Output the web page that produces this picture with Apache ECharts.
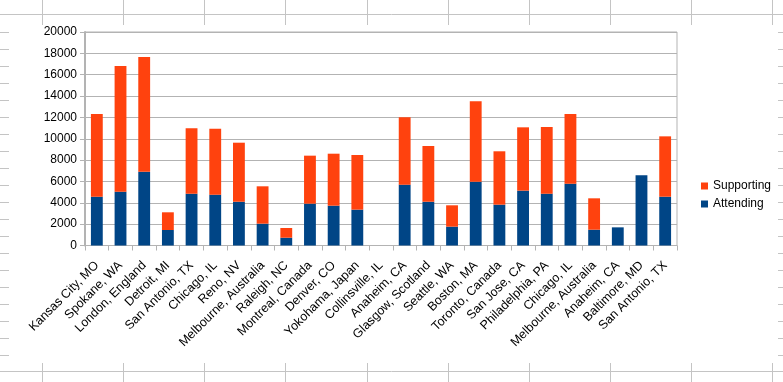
<!DOCTYPE html>
<html>
<head>
<meta charset="utf-8">
<script src="https://cdn.jsdelivr.net/npm/echarts@6/dist/echarts.min.js"></script>
<style>
html,body{margin:0;padding:0;background:#fff;}
#chart{width:783px;height:382px;}
</style>
</head>
<body>
<div id="chart"></div>
<script>
var categories = ["Kansas City, MO","Spokane, WA","London, England","Detroit, MI","San Antonio, TX","Chicago, IL","Reno, NV","Melbourne, Australia","Raleigh, NC","Montreal, Canada","Denver, CO","Yokohama, Japan","Collinsville, IL","Anaheim, CA","Glasgow, Scotland","Seattle, WA","Boston, MA","Toronto, Canada","San Jose, CA","Philadelphia, PA","Chicago, IL","Melbourne, Australia","Anaheim, CA","Baltimore, MD","San Antonio, TX"];
var attending  = [4570, 5040, 6910, 1450, 4850, 4760, 4100, 2045, 730, 3920, 3730, 3360, null, 5700, 4100, 1765, 5980, 3825, 5140, 4855, 5790, 1480, 1700, 6570, 4570];
var supporting = [7750, 11775, 10745, 1660, 6130, 6180, 5530, 3500, 910, 4495, 4870, 5120, null, 6305, 5220, 2000, 7525, 5000, 5930, 6245, 6530, 2940, null, null, 5655];
var yTicks = {min: 0, max: 20000, interval: 2000};

var chart = echarts.init(document.getElementById('chart'), null, {renderer: 'canvas'});

// spreadsheet background lines (decoration)
var gfx = [];
var sheetLine = {stroke: '#c4c4c4', lineWidth: 1};
gfx.push({type: 'line', shape: {x1: 0, y1: 14.5, x2: 783, y2: 14.5}, style: sheetLine, silent: true});
gfx.push({type: 'line', shape: {x1: 0, y1: 371.5, x2: 783, y2: 371.5}, style: sheetLine, silent: true});
for (var c = 0; c < 10; c++) {
  var cx = Math.round(42.3 + 81.05 * c) + 0.5;
  gfx.push({type: 'line', shape: {x1: cx, y1: 0, x2: cx, y2: 25}, style: sheetLine, silent: true});
  gfx.push({type: 'line', shape: {x1: cx, y1: 363, x2: cx, y2: 382}, style: sheetLine, silent: true});
}
for (var r = 1; r < 21; r++) {
  var ry = Math.round(14.5 + 17.01 * r) + 0.5;
  if (ry > 363) break;
  gfx.push({type: 'line', shape: {x1: 0, y1: ry, x2: 9, y2: ry}, style: sheetLine, silent: true});
  gfx.push({type: 'line', shape: {x1: 778, y1: ry, x2: 783, y2: ry}, style: sheetLine, silent: true});
}

var font = '"Liberation Sans", Arial, sans-serif';
chart.setOption({
  animation: false,
  backgroundColor: '#ffffff',
  textStyle: {fontFamily: font},
  graphic: gfx,
  grid: {left: 85, right: 106, top: 32, bottom: 136.5, show: true, borderColor: '#b3b3b3', borderWidth: 1, containLabel: false},
  legend: {
    orient: 'vertical', left: 696, top: 175,
    data: ['Supporting', 'Attending'],
    icon: 'rect', itemWidth: 7, itemHeight: 7, itemGap: 6,
    textStyle: {fontFamily: font, fontSize: 12, color: '#000'}
  },
  xAxis: {
    type: 'category', data: categories,
    axisLine: {lineStyle: {color: '#b3b3b3', width: 1}},
    axisTick: {show: true, length: 5, lineStyle: {color: '#b3b3b3'}},
    axisLabel: {rotate: 45, interval: 0, fontFamily: font, fontSize: 12.5, color: '#000', margin: 18}
  },
  yAxis: {
    type: 'value', min: yTicks.min, max: yTicks.max, interval: yTicks.interval,
    axisLine: {show: true, lineStyle: {color: '#b3b3b3', width: 2}},
    axisTick: {show: true, length: 5, lineStyle: {color: '#b3b3b3'}},
    axisLabel: {fontFamily: font, fontSize: 12, color: '#000', margin: 8, formatter: function (v) { return String(v); }},
    splitLine: {lineStyle: {color: '#b3b3b3', width: 1}}
  },
  series: [
    {name: 'Attending', type: 'bar', stack: 'total', data: attending, barWidth: '50%', itemStyle: {color: '#004586'}},
    {name: 'Supporting', type: 'bar', stack: 'total', data: supporting, barWidth: '50%', itemStyle: {color: '#ff420e'}}
  ]
});
</script>
</body>
</html>
